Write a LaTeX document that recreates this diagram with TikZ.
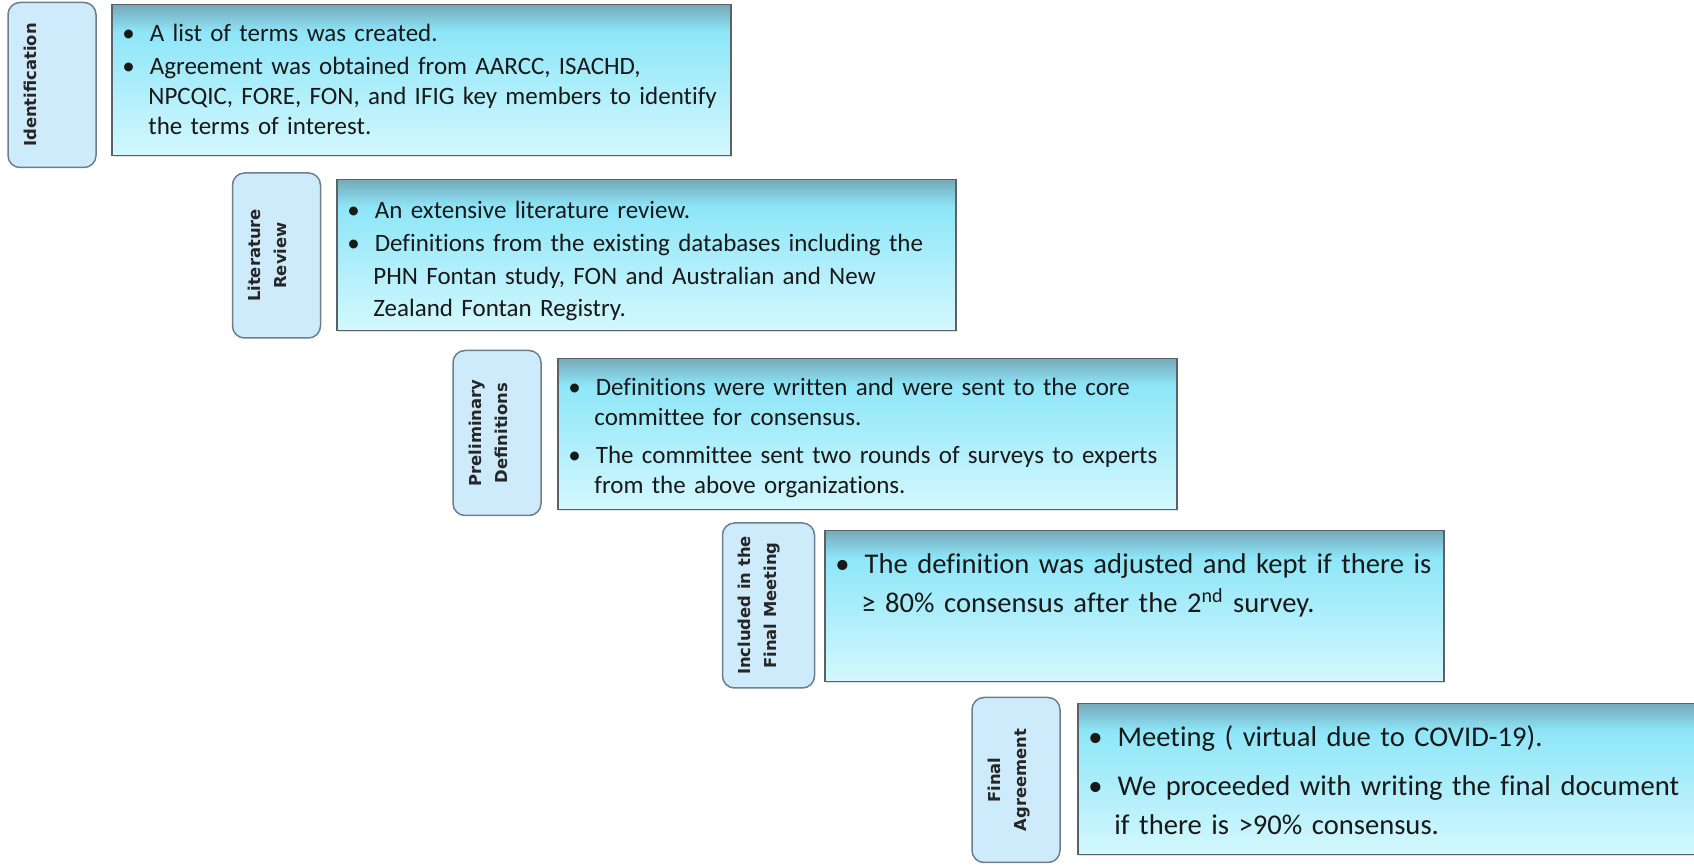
\documentclass[tikz,border=0pt]{standalone}
\usepackage{fontspec}
\setmainfont{Carlito}[Ligatures={NoCommon}]
\newfontfamily\stepfont{DejaVu Sans}
\usepackage{enumitem}
\usetikzlibrary{shadows}

\definecolor{labelfill}{HTML}{CDEBFB}
\definecolor{labeldraw}{HTML}{6E7E8C}
\definecolor{boxdraw}{HTML}{5C6166}
\definecolor{boxtop}{HTML}{76AABA}
\definecolor{boxmid}{HTML}{8EE6F8}
\definecolor{boxlow}{HTML}{D4F8FE}
\pgfdeclareverticalshading{boxshade}{100bp}{color(0bp)=(boxlow); color(25bp)=(boxlow); color(66bp)=(boxmid); color(75bp)=(boxtop); color(100bp)=(boxtop)}

\setlist[itemize]{label=\textbullet, leftmargin=13pt, labelindent=0pt, labelwidth=5.5pt, labelsep=7.5pt, align=left, topsep=0pt, partopsep=0pt, parsep=0pt, itemsep=1.5pt}

\tikzset{
  stepbox/.style={draw=labeldraw, line width=0.75pt, fill=labelfill, rounded corners=6pt, rotate=90,
    minimum width=82.5pt, minimum height=44pt, inner sep=0pt},
  steptext/.style={rotate=90, anchor=north, align=center, inner xsep=0pt, inner ysep=8pt,
    font=\stepfont\bfseries\fontsize{8.2}{13}\selectfont, text=black!85},
  notebox/.style={draw=boxdraw, line width=0.75pt, shading=boxshade, anchor=north west,
    minimum width=309.5pt, minimum height=75.5pt, inner sep=0pt,
    drop shadow={shadow xshift=0.8pt, shadow yshift=-0.8pt, opacity=0.25}},
  notetext/.style={anchor=north west, text width=300pt, inner xsep=5.5pt, inner ysep=3.5pt,
    font=\fontsize{12.5}{15}\selectfont, text=black!90},
  bigtext/.style={notetext, inner ysep=2.5pt, font=\fontsize{14.3}{19.3}\selectfont}
}

\begin{document}
\begin{tikzpicture}[x=0.5pt, y=-0.5pt]
	\useasboundingbox (0,0) rectangle (1694,865);
	%Fasi
	\node [stepbox] (ident) at (52,85) {};
	\node [stepbox] (litrev) at (276.5,255.5) {};
	\node [stepbox] (prelim) at (497,433) {};
	\node [stepbox, minimum height=46pt] (meeting) at (768.5,605.5) {};
	\node [stepbox] (agree) at (1016,780) {};
	\node [steptext] (identlbl) at (ident.north) {Identification};
	\node [steptext] (litrevlbl) at (litrev.north) {Literature\\Review};
	\node [steptext] (prelimlbl) at (prelim.north) {Preliminary\\Definitions};
	\node [steptext] (meetinglbl) at (meeting.north) {Included in the\\Final Meeting};
	\node [steptext] (agreelbl) at (agree.north) {Final\\Agreement};
	%Riquadri
	\node [notebox] (identbox) at (111,4) {};
	\node [notebox] (litbox) at (336,179) {};
	\node [notebox] (prelimbox) at (557,358) {};
	\node [notebox] (meetbox) at (824,530) {};
	\node [notebox] (agreebox) at (1077,703) {};
	%Testi
	\node [notetext] (identtxt) at (identbox.north west) {%
		\begin{itemize}
			\item A list of terms was created.
			\item Agreement was obtained from AARCC, ISACHD,\\NPCQIC, FORE, FON, and IFIG key members to identify\\the terms of interest.
		\end{itemize}};
	\node [notetext, font=\fontsize{12.5}{16.3}\selectfont] (littxt) at (litbox.north west) {%
		\begin{itemize}[itemsep=0pt]
			\item An extensive literature review.
			\item Definitions from the existing databases including the\\PHN Fontan study, FON and Australian and New\\Zealand Fontan Registry.
		\end{itemize}};
	\node [notetext] (prelimtxt) at (prelimbox.north west) {%
		\begin{itemize}[itemsep=4pt]
			\item Definitions were written and were sent to the core\\committee for consensus.
			\item The committee sent two rounds of surveys to experts\\from the above organizations.
		\end{itemize}};
	\node [bigtext] (meettxt) at (meetbox.north west) {%
		\begin{itemize}
			\item The definition was adjusted and kept if there is\\≥ 80\% consensus after the 2\textsuperscript{nd} survey.
		\end{itemize}};
	\node [bigtext] (agreetxt) at (agreebox.north west) {%
		\begin{itemize}[itemsep=5pt]
			\item Meeting ( virtual due to COVID-19).
			\item We proceeded with writing the final document\\if there is >90\% consensus.
		\end{itemize}};
\end{tikzpicture}
\end{document}
